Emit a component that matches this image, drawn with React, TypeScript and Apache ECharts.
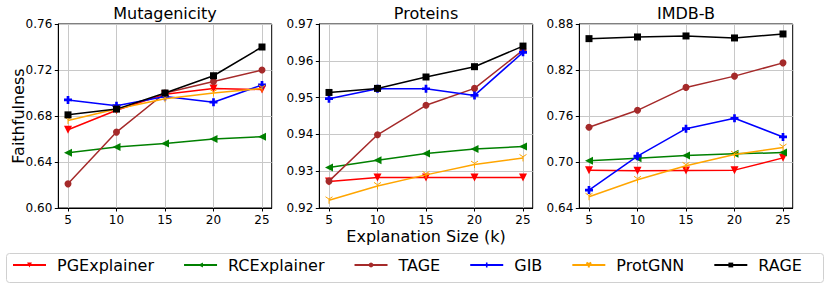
import React, { useEffect, useRef } from "react";
import * as echarts from "echarts";

const sizes = [5, 10, 15, 20, 25];
const panelTitles = ["Mutagenicity", "Proteins", "IMDB-B"];
const yTicksMut = [0.6, 0.64, 0.68, 0.72, 0.76];
const yTicksPro = [0.92, 0.93, 0.94, 0.95, 0.96, 0.97];
const yTicksImdb = [0.64, 0.7, 0.76, 0.82, 0.88];

const methods = ["PGExplainer", "RCExplainer", "TAGE", "GIB", "ProtGNN", "RAGE"];

// Mutagenicity
const mutPG = [0.668, 0.685, 0.699, 0.704, 0.703];
const mutRC = [0.648, 0.653, 0.656, 0.66, 0.662];
const mutTAGE = [0.621, 0.666, 0.7, 0.71, 0.72];
const mutGIB = [0.694, 0.689, 0.697, 0.692, 0.707];
const mutProt = [0.676, 0.686, 0.695, 0.7, 0.704];
const mutRAGE = [0.681, 0.686, 0.7, 0.715, 0.74];

// Proteins
const proPG = [0.9272, 0.9283, 0.9283, 0.9283, 0.9283];
const proRC = [0.931, 0.933, 0.9348, 0.936, 0.9367];
const proTAGE = [0.9273, 0.9399, 0.9479, 0.9525, 0.9629];
const proGIB = [0.9497, 0.9524, 0.9524, 0.9506, 0.9623];
const proProt = [0.9221, 0.926, 0.929, 0.9318, 0.9336];
const proRAGE = [0.9514, 0.9525, 0.9556, 0.9584, 0.964];

// IMDB-B
const imdbPG = [0.6894, 0.6885, 0.689, 0.6894, 0.7054];
const imdbRC = [0.7015, 0.705, 0.7084, 0.7106, 0.7123];
const imdbTAGE = [0.7453, 0.7674, 0.7973, 0.812, 0.8293];
const imdbGIB = [0.6634, 0.7076, 0.7435, 0.757, 0.7327];
const imdbProt = [0.6547, 0.6768, 0.695, 0.7097, 0.7188];
const imdbRAGE = [0.8609, 0.8631, 0.8644, 0.8618, 0.867];

const colors = ["#ff0000", "#008000", "#a52a2a", "#0000ff", "#ffa500", "#000000"];
const symbols = [
  "path://M-1,-1L1,-1L0,1Z",
  "path://M1,-1L1,1L-1,0Z",
  "circle",
  "path://M-1,-3H1V-1H3V1H1V3H-1V1H-3V-1H-1Z",
  "path://M0,0V4M0,0L-3.5,-2M0,0L3.5,-2",
  "rect",
];
const symbolSizes = [8, 8, 7, 8, 7, 7];

const FONT = "DejaVu Sans";

export default function App() {
  const ref = useRef<HTMLDivElement>(null);
  useEffect(() => {
    const chart = echarts.init(ref.current!, null, { renderer: "svg" });
    const panels = [
      { data: [mutPG, mutRC, mutTAGE, mutGIB, mutProt, mutRAGE], ticks: yTicksMut },
      { data: [proPG, proRC, proTAGE, proGIB, proProt, proRAGE], ticks: yTicksPro },
      { data: [imdbPG, imdbRC, imdbTAGE, imdbGIB, imdbProt, imdbRAGE], ticks: yTicksImdb },
    ];
    const lefts = [58.3, 319.3, 579.3];
    const gridW = 213.4;
    const gridTop = 24;
    const gridH = 184;

    const grids = lefts.map((l) => ({
      left: l,
      top: gridTop,
      width: gridW,
      height: gridH,
      show: true,
      borderColor: "#000",
      borderWidth: 1,
      backgroundColor: "transparent",
    }));
    const xAxes = lefts.map((_, i) => ({
      type: "value",
      gridIndex: i,
      min: 4,
      max: 26,
      axisLine: { show: true, lineStyle: { color: "#000", width: 1 } },
      axisTick: { show: true, customValues: sizes, length: 3.5, lineStyle: { color: "#000" } },
      axisLabel: {
        customValues: sizes,
        color: "#000",
        fontSize: 12,
        lineHeight: 12,
        fontFamily: FONT,
        margin: 6,
      },
      splitLine: { show: true, lineStyle: { color: "#c8c8c8", width: 1 } },
    }));
    const yAxes = panels.map((p, i) => ({
      type: "value",
      gridIndex: i,
      min: p.ticks[0],
      max: p.ticks[p.ticks.length - 1],
      axisLine: { show: true, lineStyle: { color: "#000", width: 1 } },
      axisTick: { show: true, customValues: p.ticks, length: 3.5, lineStyle: { color: "#000" } },
      axisLabel: {
        customValues: p.ticks,
        color: "#000",
        fontSize: 12,
        fontFamily: FONT,
        margin: 6,
        formatter: (v: number) => v.toFixed(2),
      },
      splitLine: { show: true, lineStyle: { color: "#c8c8c8", width: 1 } },
    }));

    const series: any[] = [];
    panels.forEach((p, gi) => {
      p.data.forEach((vals, mi) => {
        const isTri = mi === 4;
        series.push({
          type: "line",
          name: methods[mi],
          xAxisIndex: gi,
          yAxisIndex: gi,
          data: sizes.map((s, k) => [s, vals[k]]),
          symbol: symbols[mi],
          symbolSize: symbolSizes[mi],
          showSymbol: true,
          lineStyle: { color: colors[mi], width: 1.5 },
          itemStyle: isTri
            ? { color: "transparent", borderColor: colors[mi], borderWidth: 1 }
            : { color: colors[mi], borderWidth: 0 },
          emphasis: { disabled: true },
          z: 2 + mi,
        });
      });
    });

    chart.setOption({
      animation: false,
      textStyle: { fontFamily: FONT },
      grid: grids,
      xAxis: xAxes,
      yAxis: yAxes,
      legend: {
        data: methods,
        left: 12,
        top: 257,
        padding: 0,
        itemWidth: 33,
        itemHeight: 6,
        itemGap: 29,
        textStyle: { fontSize: 16, color: "#000", fontFamily: FONT, padding: [0, 0, 0, 6] },
        selectedMode: false,
      },
      graphic: [
        {
          type: "rect",
          shape: { x: 6.5, y: 253.5, width: 817, height: 29, r: 3 },
          style: { fill: "#fff", stroke: "#d0d0d0", lineWidth: 1 },
          z: -1,
          silent: true,
        },
        ...panelTitles.map((t, i) => ({
          type: "text",
          x: lefts[i] + gridW / 2,
          y: 13,
          style: {
            text: t,
            fontSize: 16,
            fontFamily: FONT,
            fill: "#000",
            textAlign: "center",
            textVerticalAlign: "middle",
          },
        })),
        {
          type: "text",
          x: 18,
          y: 116,
          rotation: Math.PI / 2,
          style: {
            text: "Faithfulness",
            fontSize: 16,
            fontFamily: FONT,
            fill: "#000",
            textAlign: "center",
            textVerticalAlign: "middle",
          },
        },
        {
          type: "text",
          x: lefts[1] + gridW / 2,
          y: 236,
          style: {
            text: "Explanation Size (k)",
            fontSize: 16,
            fontFamily: FONT,
            fill: "#000",
            textAlign: "center",
            textVerticalAlign: "middle",
          },
        },
      ],
      series,
    });
    return () => chart.dispose();
  }, []);
  return (
    <div
      ref={ref}
      style={{ position: "fixed", left: 0, top: 0, width: 830, height: 288, background: "#fff" }}
    />
  );
}
